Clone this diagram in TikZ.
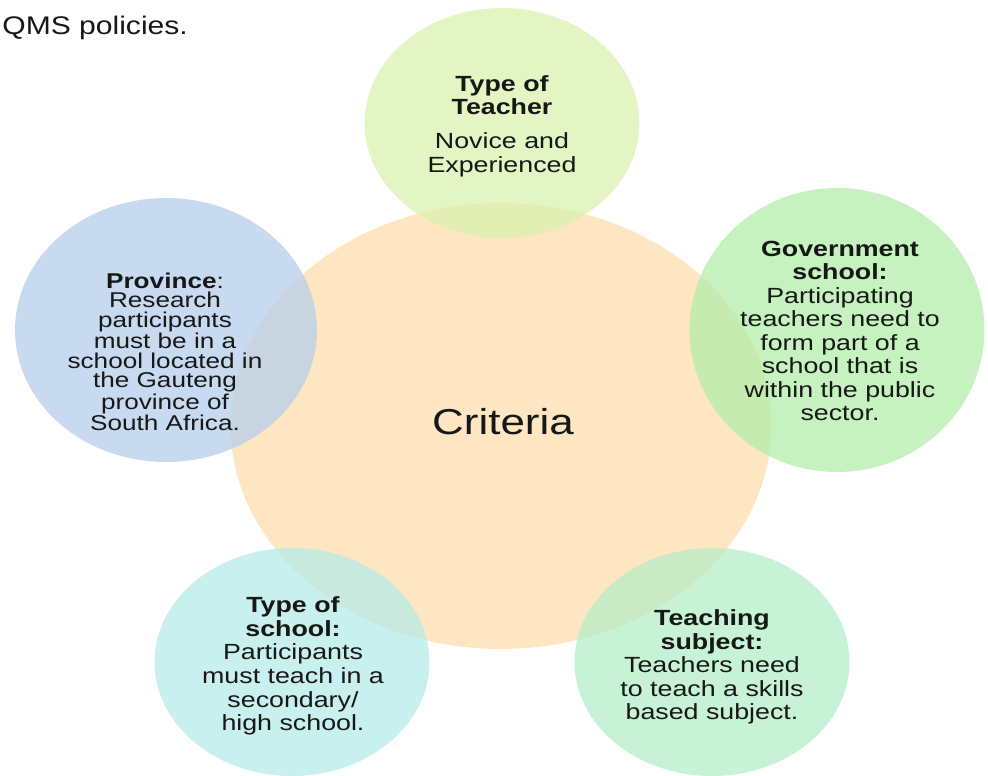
\documentclass[tikz,border=0pt]{standalone}
\usepackage{fontspec}
\setmainfont{Liberation Sans}
\usepackage{tikz}
\usetikzlibrary{shapes.geometric}

\definecolor{peach}{RGB}{254,230,195}
\definecolor{lime}{RGB}{219,242,176}
\definecolor{skyblue}{RGB}{182,206,235}
\definecolor{leaf}{RGB}{178,238,168}
\definecolor{aqua}{RGB}{182,235,232}
\definecolor{mint}{RGB}{182,238,200}
\definecolor{ink}{RGB}{22,24,22}

\begin{document}
\begin{tikzpicture}[
        x=0.02cm, y=-0.02cm,
        bubble/.style={ellipse, inner sep=0pt, outer sep=0pt, fill opacity=0.75},
        blurb/.style={align=center, inner sep=0pt, text=ink, xscale=1.22, transform shape,
                      font=\fontsize{12.5}{13.4}\selectfont}
    ]
        \useasboundingbox (0,0) rectangle (988,775);
        \node[anchor=base west, inner sep=0pt, text=ink, xscale=1.18, transform shape,
              font=\fontsize{14.5}{17}\selectfont] (intro) at (2,34) {QMS policies.};

        % hub and the five criteria around it
        \node[ellipse, inner sep=0pt, fill=peach, minimum width=10.82cm, minimum height=8.92cm] (hub) at (501,426) {};
        \node[bubble, fill=lime, minimum width=5.5cm, minimum height=4.6cm] (teacher) at (502,123) {};
        \node[bubble, fill=skyblue, minimum width=6.04cm, minimum height=5.28cm] (province) at (166,330) {};
        \node[bubble, fill=leaf, minimum width=5.9cm, minimum height=5.68cm] (govt) at (837,330) {};
        \node[bubble, fill=aqua, minimum width=5.5cm, minimum height=4.56cm] (schooltype) at (292,662) {};
        \node[bubble, fill=mint, minimum width=5.5cm, minimum height=4.56cm] (subject) at (712,662) {};

        \node[blurb, font=\fontsize{20.5}{24}\selectfont] (criteria) at (503,422) {Criteria};
        \node[blurb] (teacher-txt) at (502,126)
            {\textbf{Type of}\\\textbf{Teacher}\\[6pt]Novice and\\Experienced};
        \node[blurb, font=\fontsize{12.2}{11}\selectfont] (province-txt) at (165,352)
            {\textbf{Province}:\\Research\\participants\\must be in a\\school located in\\the Gauteng\\province of\\South Africa.};
        \node[blurb] (govt-txt) at (840,331)
            {\textbf{Government}\\\textbf{school:}\\Participating\\teachers need to\\form part of a\\school that is\\within the public\\sector.};
        \node[blurb] (schooltype-txt) at (293,666)
            {\textbf{Type of}\\\textbf{school:}\\Participants\\must teach in a\\secondary/\\high school.};
        \node[blurb] (subject-txt) at (712,667)
            {\textbf{Teaching}\\\textbf{subject:}\\Teachers need\\to teach a skills\\based subject.};
    \end{tikzpicture}
\end{document}
